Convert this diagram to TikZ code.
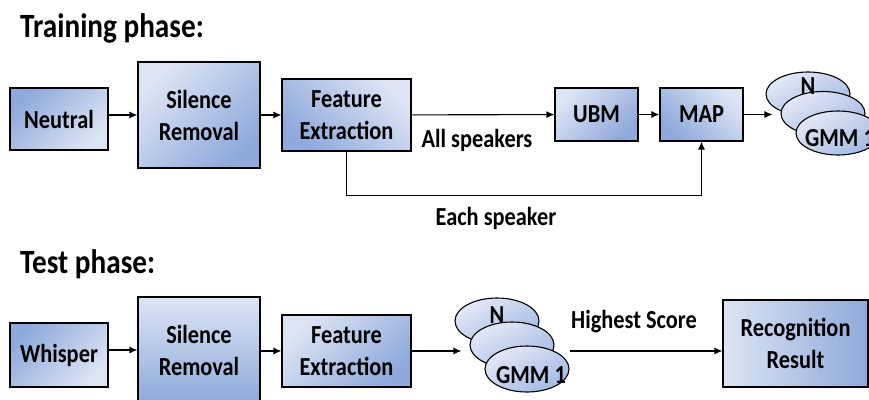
\documentclass[tikz,border=0pt]{standalone}
\usepackage{fontspec}
\setmainfont{Carlito}[FakeStretch=0.86]
\usetikzlibrary{positioning, shapes.geometric, arrows.meta, calc}
\definecolor{bxlight}{HTML}{DDE5F4}
\definecolor{bxdark}{HTML}{8EA9DB}
\definecolor{ellight}{HTML}{E3E9F6}
\definecolor{eldark}{HTML}{A4B9E4}

\begin{document}
\begin{tikzpicture}[x=1pt, y=-1pt,
    blk/.style={draw=black, line width=1.1pt, top color=bxlight, bottom color=bxdark, shading angle=#1, font=\fontsize{26}{32}\selectfont\bfseries, align=center, inner sep=2pt},
    blk/.default=45,
    ell/.style={ellipse, draw=black, line width=1.1pt, top color=ellight, bottom color=eldark, shading angle=30, minimum width=84pt, minimum height=#1, inner sep=0pt},
    ell/.default=44pt,
    lbl/.style={font=\fontsize{26}{32}\selectfont\bfseries, inner sep=0pt, anchor=base},
    ttl/.style={font=\fontsize{34}{40}\selectfont\bfseries, inner sep=0pt, anchor=base west},
    arr/.style={-{Latex[length=8pt,width=7pt]}, line width=1.1pt}]
  \useasboundingbox (0,0) rectangle (869,399);
  \clip (0,0) rectangle (869,399);

  % training
  \node[ttl] (ttrain) at (20,37) {Training phase:};
  \node[blk=225, minimum width=98pt, minimum height=62pt] (neu) at (59,119) {Neutral};
  \node[blk, minimum width=122pt, minimum height=106pt] (sr1) at (199,115) {Silence\\Removal};
  \node[blk=-45, minimum width=129pt, minimum height=72pt] (fe1) at (346.5,115) {Feature\\Extraction};
  \node[blk, minimum width=83pt, minimum height=53pt] (ubm) at (596.5,114.5) {UBM};
  \node[blk=-45, minimum width=83pt, minimum height=53pt] (map) at (701.5,114.5) {MAP};
  \node[ell] (te1) at (808,94) {};
  \node[ell] (te2) at (823,113.5) {};
  \node[ell] (te3) at (838,133) {};
  \node[lbl, anchor=center] at ($(te1)+(0,-8)$) {N};
  \node[lbl, anchor=center] at ($(te3)+(2,5)$) {GMM 1};

  \draw[arr] (neu.east |- sr1.west) -- (sr1.west);
  \draw[arr] (sr1) -- (fe1);
  \draw[arr] (fe1) -- (ubm);
  \draw[arr] (ubm) -- (map);
  \draw[arr, shorten >=8pt] (map.east) -- (map.east -| te2.west);
  \draw[arr] (fe1.south) -- ++(0,44) -| (map.south);
  \node[lbl] (allspk) at (477,147) {All speakers};
  \node[lbl] (eachspk) at (496,225) {Each speaker};

  % test
  \node[ttl] (ttest) at (20,273) {Test phase:};
  \node[blk=225, minimum width=98pt, minimum height=64pt] (whi) at (59,355) {Whisper};
  \node[blk=0, minimum width=122pt, minimum height=106pt] (sr2) at (199,350) {Silence\\Removal};
  \node[blk, minimum width=129pt, minimum height=72pt] (fe2) at (346.5,351) {Feature\\Extraction};
  \node[ell=46pt] (se1) at (497,321) {};
  \node[ell=46pt] (se2) at (512,345) {};
  \node[ell=46pt] (se3) at (527,369) {};
  \node[lbl, anchor=center] at ($(se1)+(0,-6)$) {N};
  \node[lbl, anchor=center] at ($(se3)+(4,6)$) {GMM 1};
  \node[blk=90, minimum width=145pt, minimum height=87pt] (rec) at (795.5,343.5) {Recognition\\Result};

  \draw[arr] (whi.east |- sr2.west) -- (sr2.west);
  \draw[arr] (sr2.east |- fe2.west) -- (fe2.west);
  \draw[arr, shorten >=8pt] (fe2.east) -- (fe2.east -| se2.west);
  \draw[arr] (fe2.east -| se3.east) -- (fe2.east -| rec.west);
  \node[lbl] (hiscore) at (634,328) {Highest Score};
\end{tikzpicture}
\end{document}
